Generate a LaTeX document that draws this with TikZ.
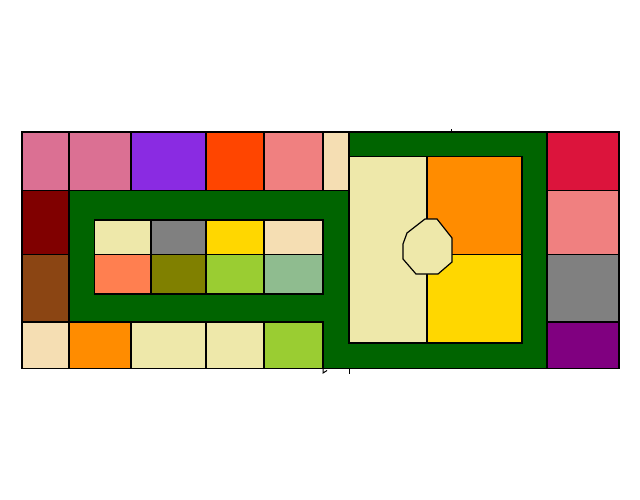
\documentclass[tikz,border=0pt]{standalone}
\definecolor{cPVR}{HTML}{DB7093}
\definecolor{cBV}{HTML}{8A2BE2}
\definecolor{cOR}{HTML}{FF4500}
\definecolor{cLC}{HTML}{F08080}
\definecolor{cWH}{HTML}{F5DEB3}
\definecolor{cDG}{HTML}{006400}
\definecolor{cCR}{HTML}{DC143C}
\definecolor{cDR}{HTML}{800000}
\definecolor{cSB}{HTML}{8B4513}
\definecolor{cGR}{HTML}{808080}
\definecolor{cPU}{HTML}{800080}
\definecolor{cDO}{HTML}{FF8C00}
\definecolor{cPG}{HTML}{EEE8AA}
\definecolor{cYG}{HTML}{9ACD32}
\definecolor{cGO}{HTML}{FFD700}
\definecolor{cCO}{HTML}{FF7F50}
\definecolor{cOL}{HTML}{808000}
\definecolor{cDS}{HTML}{8FBC8F}
\tikzset{cellbox/.style={draw=black,line width=1.2pt,line join=miter}}
\newcommand{\mycell}[5]{\filldraw[cellbox,fill=#5] (#1,#2) rectangle (#3,#4);}
\begin{document}
\begin{tikzpicture}[x=1pt,y=-1pt]
\useasboundingbox (0,0) rectangle (640,500);
% green region
\filldraw[cellbox,fill=cDG] (349,132) -- (547,132) -- (547,368.5) -- (323,368.5) -- (323,322) -- (69,322) -- (69,190.5) -- (349,190.5) -- cycle;
% top row
\mycell{22}{132}{69}{190.5}{cPVR}
\mycell{69}{132}{131}{190.5}{cPVR}
\mycell{131}{132}{206}{190.5}{cBV}
\mycell{206}{132}{264}{190.5}{cOR}
\mycell{264}{132}{323}{190.5}{cLC}
\mycell{323}{132}{349}{190.5}{cWH}
% right column
\mycell{547}{132}{619}{190.5}{cCR}
\mycell{547}{190.5}{619}{254.5}{cLC}
\mycell{547}{254.5}{619}{322}{cGR}
\mycell{547}{322}{619}{368.5}{cPU}
% left column
\mycell{22}{190.5}{69}{254.5}{cDR}
\mycell{22}{254.5}{69}{322}{cSB}
\mycell{22}{322}{69}{368.5}{cWH}
% bottom row
\mycell{69}{322}{131}{368.5}{cDO}
\mycell{131}{322}{206}{368.5}{cPG}
\mycell{206}{322}{264}{368.5}{cPG}
\mycell{264}{322}{323}{368.5}{cYG}
% inner left block
\mycell{94.5}{220}{151}{254.5}{cPG}
\mycell{151}{220}{206}{254.5}{cGR}
\mycell{206}{220}{264}{254.5}{cGO}
\mycell{264}{220}{323}{254.5}{cWH}
\mycell{94.5}{254.5}{151}{294}{cCO}
\mycell{151}{254.5}{206}{294}{cOL}
\mycell{206}{254.5}{264}{294}{cYG}
\mycell{264}{254.5}{323}{294}{cDS}
% inner right block
\mycell{349}{156.5}{427}{343}{cPG}
\mycell{427}{156.5}{522}{254.5}{cDO}
\mycell{427}{254.5}{522}{343}{cGO}
% octagon
\filldraw[cellbox,fill=cPG] (425,219) -- (437,219) -- (452,238) -- (452,262) -- (438,274) -- (416,274) -- (403,259) -- (403,244) -- (407,233) -- cycle;
% small ticks
\draw[line width=1pt] (451.5,129.5) -- (451.5,132);
\draw[line width=1pt] (349,368.5) -- (349,374);
\draw[line width=1pt] (323,368.5) -- (323,373) -- (327,370.5);
\end{tikzpicture}
\end{document}
